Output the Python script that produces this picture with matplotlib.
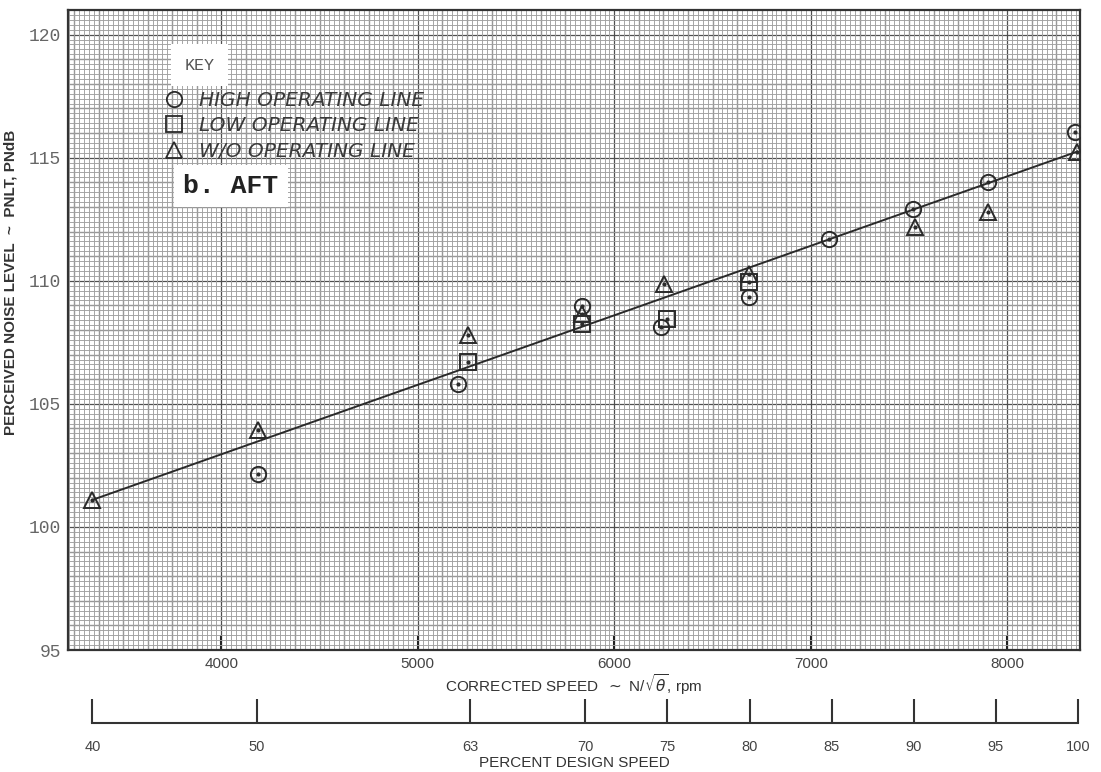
import numpy as np
import matplotlib
matplotlib.use("Agg")
import matplotlib.pyplot as plt
from matplotlib.lines import Line2D
from matplotlib.ticker import MultipleLocator

# data (rpm, PNdB)
high_rpm = [4185, 5206, 5837, 6239, 6687, 7094, 7522, 7900, 8346]
high_pnl = [102.15, 105.8, 108.98, 108.13, 109.35, 111.7, 112.93, 114.0, 116.05]
low_rpm = [5257, 5837, 6270, 6687]
low_pnl = [106.7, 108.25, 108.45, 109.95]
wo_rpm = [3344, 4185, 5257, 5837, 6254, 6687, 7532, 7900, 8356]
wo_pnl = [101.1, 103.94, 107.8, 108.66, 109.88, 110.28, 112.2, 112.8, 115.24]

# faired line
line_rpm = [3344, 8356]
line_pnl = [101.1, 115.25]

design_rpm = 8360  # 100 percent design speed
pct_ticks = [40, 50, 63, 70, 75, 80, 85, 90, 95, 100]
rpm_ticks = [4000, 5000, 6000, 7000, 8000]
pnl_ticks = [95, 100, 105, 110, 115, 120]

ink = '#2a2a2a'
narrow = ['Liberation Sans Narrow', 'Liberation Sans', 'DejaVu Sans']
mono = ['Liberation Mono', 'DejaVu Sans Mono']

fig = plt.figure(figsize=(11.01, 7.72), dpi=100)
ax = fig.add_axes([0.0618, 0.158, 0.9192, 0.829])
ax.set_xlim(3220, 8370)
ax.set_ylim(95, 121)

# graph paper
ax.xaxis.set_minor_locator(MultipleLocator(25))
ax.yaxis.set_minor_locator(MultipleLocator(0.2))
ax.grid(which='minor', color='#a0a0a0', lw=0.65)
for v in np.arange(3250, 8370, 125):
    ax.axvline(v, color='#505050', lw=0.9, zorder=0.5)
for v in np.arange(96, 121, 1):
    ax.axhline(v, color='#505050', lw=0.9, zorder=0.5)
ax.set_axisbelow(True)
for s in ax.spines.values():
    s.set_color('#333333')
    s.set_linewidth(1.6)

ax.set_xticks(rpm_ticks)
ax.set_yticks(pnl_ticks)
ax.tick_params(axis='x', which='major', direction='in', length=11, width=1.5,
               color='#222222', pad=5, labelsize=11, labelcolor='#444444')
ax.tick_params(axis='y', which='major', length=0, pad=5, labelsize=13, labelcolor='#666666')
ax.tick_params(which='minor', length=0)
for t in ax.get_yticklabels():
    t.set_family(mono)
for t in ax.get_xticklabels():
    t.set_family(narrow)

ax.set_xlabel(r'CORRECTED SPEED  $\sim$ N/$\sqrt{\theta}$, rpm', fontsize=11,
              color='#333333', labelpad=1, family=narrow)
ax.set_ylabel('PERCEIVED NOISE LEVEL  ~  PNLT, PNdB', fontsize=11, fontweight='bold',
              color='#333333', family=narrow)
ax.yaxis.set_label_coords(-0.05, 0.575)

# faired line and data
ax.plot(line_rpm, line_pnl, color=ink, lw=1.4, zorder=3)
mk = dict(ls='none', mfc='none', mec=ink, mew=1.4, zorder=4)
ax.plot(high_rpm, high_pnl, marker='o', ms=11, **mk)
ax.plot(low_rpm, low_pnl, marker='s', ms=11, **mk)
ax.plot(wo_rpm, wo_pnl, marker='^', ms=12, **mk)
ax.plot(high_rpm + low_rpm + wo_rpm, high_pnl + low_pnl + wo_pnl, ls='none',
        marker='o', ms=2, color=ink, zorder=5)

# key
ax.text(0.13, 0.914, 'KEY', transform=ax.transAxes, ha='center', va='center',
        fontsize=12, color='#555555', family=mono,
        bbox=dict(boxstyle='square,pad=0.8', fc='white', ec='none'), zorder=6)
handles = [
    Line2D([], [], ls='none', marker='o', ms=11, mfc='none', mec=ink, mew=1.3),
    Line2D([], [], ls='none', marker='s', ms=11, mfc='none', mec=ink, mew=1.3),
    Line2D([], [], ls='none', marker='^', ms=12, mfc='none', mec=ink, mew=1.3),
]
labels = ['HIGH OPERATING LINE', 'LOW OPERATING LINE', 'W/O OPERATING LINE']
leg = ax.legend(handles, labels, loc='upper left', bbox_to_anchor=(0.095, 0.874),
                frameon=False, handlelength=1.0, handletextpad=0.75, labelspacing=0.33,
                borderpad=0, borderaxespad=0,
                prop=dict(family=['DejaVu Sans'], style='oblique', size=14.5))
for t in leg.get_texts():
    t.set_color('#3a3a3a')
leg.set_zorder(6)

ax.text(0.161, 0.725, 'b. AFT', transform=ax.transAxes, ha='center', va='center',
        fontsize=19, color='#222222', family=mono, fontweight='bold',
        bbox=dict(boxstyle='square,pad=0.35', fc='white', ec='none'), zorder=6)

# percent design speed scale
ax2 = fig.add_axes([0.0618, 0.0635, 0.9192, 0.03])
ax2.set_xlim(3220 / design_rpm * 100, 8370 / design_rpm * 100)
ax2.set_ylim(0, 1)
ax2.patch.set_visible(False)
for k in ['top', 'left', 'right']:
    ax2.spines[k].set_visible(False)
ax2.spines['bottom'].set_bounds(pct_ticks[0], pct_ticks[-1])
ax2.spines['bottom'].set_linewidth(1.5)
ax2.spines['bottom'].set_color('#333333')
ax2.set_yticks([])
ax2.set_xticks(pct_ticks)
ax2.tick_params(axis='x', direction='in', length=17, width=1.5, color='#333333',
                pad=12, labelsize=10.5, labelcolor='#444444')
for t in ax2.get_xticklabels():
    t.set_family(narrow)
ax2.set_xlabel('PERCENT DESIGN SPEED', fontsize=11, color='#333333', labelpad=2,
               family=narrow)

fig.savefig('out.png', dpi=100)
